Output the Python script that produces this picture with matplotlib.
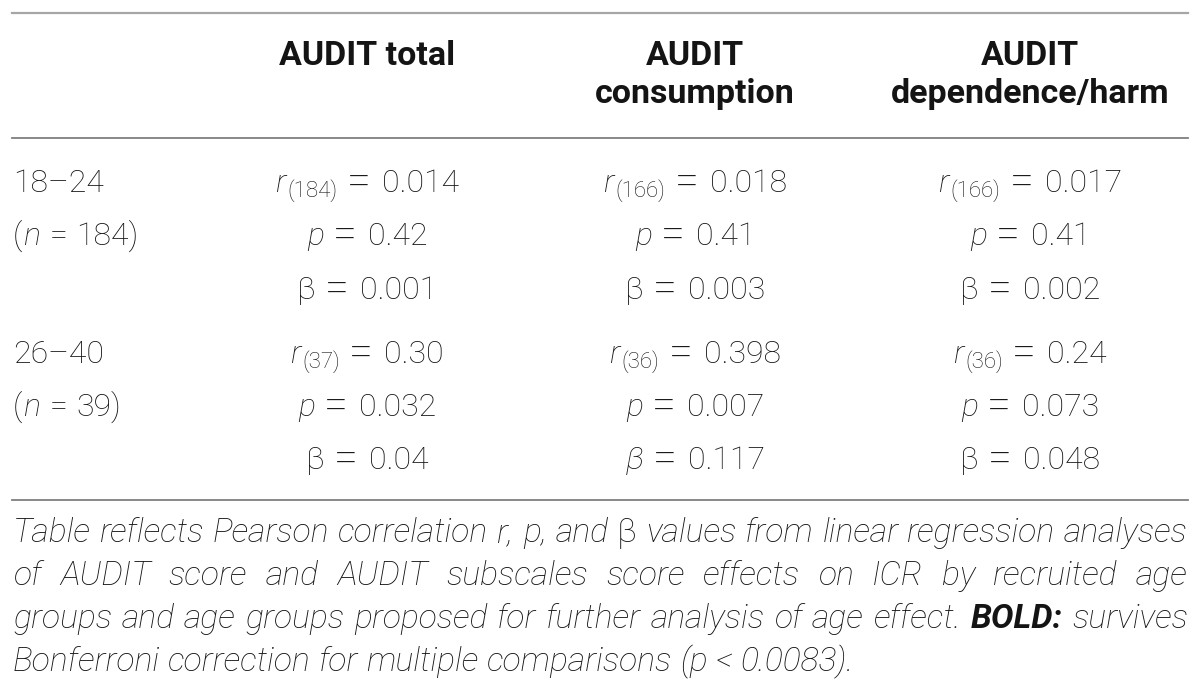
import matplotlib
matplotlib.use("Agg")
import matplotlib.pyplot as plt
from matplotlib.lines import Line2D

# ---- table content ----
col_titles = [["AUDIT total"], ["AUDIT", "consumption"], ["AUDIT", "dependence/harm"]]
age_groups = ["18–24", "26–40"]
group_n = ["184", "39"]
r_df = [["184", "166", "166"], ["37", "36", "36"]]
r_vals = [["0.014", "0.018", "0.017"], ["0.30", "0.398", "0.24"]]
p_vals = [["0.42", "0.41", "0.41"], ["0.032", "0.007", "0.073"]]
beta_vals = [["0.001", "0.003", "0.002"], ["0.04", "0.117", "0.048"]]
beta_italic = [[False, False, False], [False, True, False]]

caption_lines = [
    "Table reflects Pearson correlation r, p, and β values from linear regression analyses",
    "of AUDIT score and AUDIT subscales score effects on ICR by recruited age",
    "groups and age groups proposed for further analysis of age effect. BOLD: survives",
    "Bonferroni correction for multiple comparisons (p < 0.0083).",
]
caption_upright = {"β"}
caption_bold = {"BOLD:"}

# ---- layout (pixels, from top-left) ----
W, H = 1200, 690
LEFT, RIGHT = 12, 1188
col_x = [367, 695, 1030]
header_base = [65, 103]
rule_top, rule_head, rule_bottom = 13, 138, 500
row_base = [[192, 245, 299], [363, 416, 469]]
caption_base = [542, 585, 628, 671]

FAMILY = "Roboto"
INK = "#141414"
BODY = 23
SUB = 16
CAP = 24.3

light = dict(family=FAMILY, weight="light", size=BODY, color=INK)
ital = dict(light, style="italic")
sub = dict(light, size=SUB)
eq = dict(light, size=31)
bold = dict(family=FAMILY, weight="bold", size=24.5, color=INK)
cap_it = dict(family=FAMILY, weight="light", style="italic", size=CAP, color=INK)
cap_up = dict(cap_it, style="normal")
cap_bold = dict(cap_it, weight="bold")

fig = plt.figure(figsize=(W / 100, H / 100), dpi=100)
fig.patch.set_facecolor("white")
renderer = fig.canvas.get_renderer()


def fx(x):
    return x / W


def fy(y):
    return 1 - y / H


def width_of(txt, props):
    t = fig.text(0, 0, txt, **props)
    w = t.get_window_extent(renderer).width
    t.remove()
    return w


def draw_runs(runs, x, y, align="center"):
    # runs: (text, props, gap_before_px, drop_px)
    widths = [width_of(r[0], r[1]) for r in runs]
    total = sum(widths) + sum(r[2] for r in runs)
    if align == "center":
        cur = x - total / 2
    else:
        cur = x
    for (txt, props, gap, drop), w in zip(runs, widths):
        cur += gap
        fig.text(fx(cur), fy(y + drop), txt, ha="left", va="baseline", **props)
        cur += w


def equals(lhs, rhs):
    # left side runs, then a wide "=" sign, then the value
    return lhs + [("=", eq, 9, 3), (rhs, light, 11, 0)]


def hrule(y, color, lw):
    fig.add_artist(Line2D([fx(LEFT), fx(RIGHT)], [fy(y), fy(y)],
                          color=color, lw=lw, transform=fig.transFigure))


hrule(rule_top, "#a6a6a6", 1.6)
hrule(rule_head, "#7f7f7f", 1.3)
hrule(rule_bottom, "#7f7f7f", 1.3)

# header
for cx, lines in zip(col_x, col_titles):
    for k, line in enumerate(lines):
        fig.text(fx(cx), fy(header_base[k]), line, ha="center", va="baseline", **bold)

# body
for g in range(len(age_groups)):
    b = row_base[g]
    fig.text(fx(LEFT + 1), fy(b[0]), age_groups[g], ha="left", va="baseline", **light)
    draw_runs([("(", light, 0, 0), ("n", ital, 1, 0), ("=", light, 9, 0),
               (group_n[g] + ")", light, 9, 0)], LEFT + 1, b[1], align="left")
    for c in range(3):
        cx = col_x[c]
        draw_runs(equals([("r", ital, 0, 0), ("(" + r_df[g][c] + ")", sub, 2, 5)],
                         r_vals[g][c]), cx, b[0])
        draw_runs(equals([("p", ital, 0, 0)], p_vals[g][c]), cx, b[1])
        bprops = ital if beta_italic[g][c] else light
        draw_runs(equals([("β", bprops, 0, 0)], beta_vals[g][c]), cx, b[2])

# caption, justified except the last line
space = width_of("a a", cap_it) - 2 * width_of("a", cap_it)
for i, line in enumerate(caption_lines):
    words = line.split(" ")
    props = [cap_up if w in caption_upright else cap_bold if w in caption_bold else cap_it
             for w in words]
    widths = [width_of(w, p) for w, p in zip(words, props)]
    if i < len(caption_lines) - 1:
        gap = (RIGHT - LEFT - 1 - sum(widths)) / (len(words) - 1)
    else:
        gap = space
    cur = LEFT + 1
    for w, p, wd in zip(words, props, widths):
        fig.text(fx(cur), fy(caption_base[i]), w, ha="left", va="baseline", **p)
        cur += wd + gap

fig.savefig("out.png", dpi=100, facecolor="white")
